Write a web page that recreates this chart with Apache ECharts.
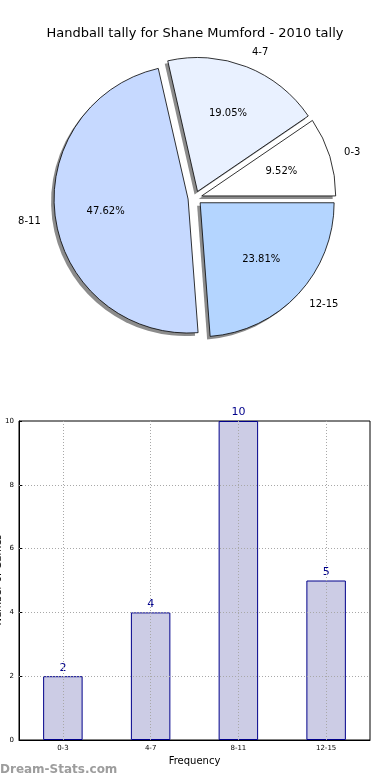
<!DOCTYPE html>
<html>
<head>
<meta charset="utf-8">
<script src="https://cdn.jsdelivr.net/npm/echarts@6/dist/echarts.min.js"></script>
<style>
html,body{margin:0;padding:0;background:#fff;}
#chart{width:390px;height:780px;}
</style>
</head>
<body>
<div id="chart"></div>
<script>
const titleText = 'Handball tally for Shane Mumford - 2010 tally';
const yAxisTitle = 'Number of Games';
const categories = ['0-3', '4-7', '8-11', '12-15'];
const counts = [2, 4, 10, 5];
const yTicks = [0, 2, 4, 6, 8, 10];
const sliceColors = ['#ffffff', '#e9f1ff', '#c6d9ff', '#b4d5ff'];

const FONT = 'DejaVu Sans';
const PIE_R = 134;
const PIE_C = [195, 198];

const chart = echarts.init(document.getElementById('chart'), null, {renderer: 'canvas'});

function pieData(kind) {
  return categories.map((c, i) => {
    let style;
    if (kind === 'main') style = {color: sliceColors[i]};
    else if (kind === 'shadow') style = {color: '#8c8c8c', borderWidth: 0};
    else style = {color: 'rgba(0,0,0,0)', borderWidth: 0};
    return {name: c, value: counts[i], selected: true, itemStyle: style};
  });
}

const pieCommon = {
  type: 'pie',
  center: PIE_C,
  startAngle: 0,
  clockwise: false,
  selectedMode: 'multiple',
  selectedOffset: 7,
  avoidLabelOverlap: false,
  animation: false,
  silent: true,
  emphasis: {disabled: true},
  percentPrecision: 2
};

const option = {
  animation: false,
  backgroundColor: '#ffffff',
  textStyle: {fontFamily: FONT},
  title: {
    text: titleText,
    left: 'center',
    top: 22,
    textStyle: {fontFamily: FONT, fontSize: 13, fontWeight: 'normal', color: '#000'}
  },
  grid: {
    left: 19, right: 20, top: 421, bottom: 40,
    outerBoundsMode: 'none',
    containLabel: false,
    show: true, borderColor: '#000', borderWidth: 1
  },
  xAxis: {
    type: 'category',
    data: categories,
    name: 'Frequency',
    nameLocation: 'middle',
    nameGap: 16,
    nameMoveOverlap: false,
    nameTextStyle: {fontFamily: FONT, fontSize: 10, color: '#000'},
    axisLine: {lineStyle: {color: '#000'}},
    axisTick: {show: false},
    axisLabel: {fontFamily: FONT, fontSize: 7, color: '#000', margin: 5},
    splitLine: {show: false}
  },
  yAxis: {
    type: 'value',
    min: 0, max: 10, interval: 2,
    axisLine: {show: true, lineStyle: {color: '#000'}},
    axisTick: {show: true, inside: true, length: 3, lineStyle: {color: '#000'}},
    axisLabel: {fontFamily: FONT, fontSize: 7, color: '#000', margin: 5},
    splitLine: {show: false}
  },
  graphic: [{
    type: 'text',
    left: 0,
    top: 764,
    style: {text: 'Dream-Stats.com', fontFamily: FONT, fontSize: 12, fontWeight: 'bold', fill: '#9d9d9d'}
  }, {
    type: 'text',
    x: -2,
    y: 580,
    rotation: Math.PI / 2,
    style: {text: yAxisTitle, fontFamily: FONT, fontSize: 10, fill: '#000', align: 'center', verticalAlign: 'middle'}
  }],
  series: [
    Object.assign({}, pieCommon, {
      center: [PIE_C[0] - 3, PIE_C[1] + 3],
      radius: PIE_R,
      data: pieData('shadow'),
      itemStyle: {borderWidth: 0},
      select: {itemStyle: {borderWidth: 0}},
      label: {show: false},
      labelLine: {show: false},
      z: 1
    }),
    Object.assign({}, pieCommon, {
      radius: PIE_R,
      data: pieData('main'),
      itemStyle: {borderColor: '#000', borderWidth: 0.8},
      select: {itemStyle: {borderColor: '#000', borderWidth: 0.8}},
      label: {show: false},
      labelLine: {show: false},
      z: 2
    }),
    Object.assign({}, pieCommon, {
      radius: [PIE_R * 0.2, PIE_R],
      data: pieData('none'),
      label: {show: true, position: 'inside', formatter: '{d}%', fontFamily: FONT, fontSize: 10, color: '#000'},
      labelLine: {show: false},
      z: 3
    }),
    Object.assign({}, pieCommon, {
      radius: PIE_R,
      data: pieData('none'),
      label: {show: true, position: 'outside', formatter: '{b}', fontFamily: FONT, fontSize: 10, color: '#000', distanceToLabelLine: 0},
      labelLine: {show: false, length: 15, length2: 0},
      z: 3
    }),
    {
      type: 'bar',
      data: counts,
      barWidth: '45%',
      z: 2,
      itemStyle: {color: '#ccccE5', borderColor: '#00008b', borderWidth: 1},
      label: {show: true, position: 'top', distance: 3, fontFamily: FONT, fontSize: 11, color: '#00008b'},
      emphasis: {disabled: true},
      markLine: {
        silent: true,
        symbol: 'none',
        animation: false,
        label: {show: false},
        lineStyle: {type: [1, 2], color: '#a8a8a8', width: 1},
        emphasis: {disabled: true},
        data: categories.map(c => ({xAxis: c})).concat(yTicks.slice(1, -1).map(v => ({yAxis: v})))
      }
    }
  ]
};

chart.setOption(option);
</script>
</body>
</html>
